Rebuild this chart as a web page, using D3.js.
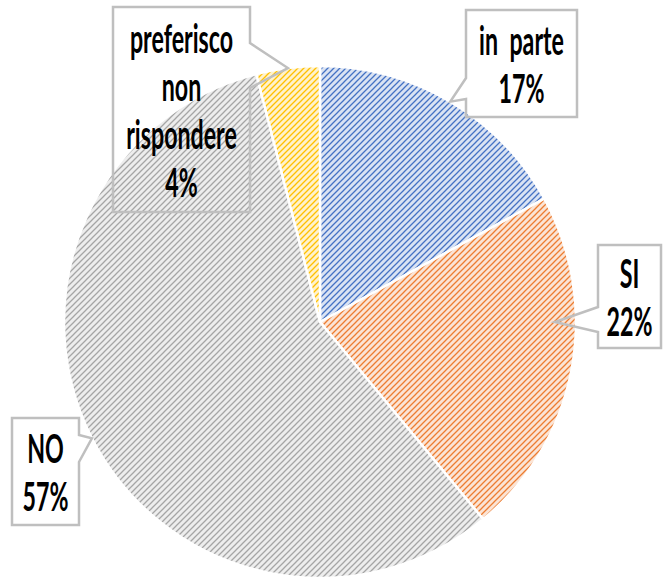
<!DOCTYPE html>
<html>
<head>
<meta charset="utf-8">
<script src="https://cdn.jsdelivr.net/npm/d3@7"></script>
<style>
  html, body { margin: 0; padding: 0; background: #fff; }
  svg { display: block; }
</style>
</head>
<body>
<div id="chart"></div>
<script>
// data
const categories = ["in parte", "SI", "NO", "preferisco non rispondere"];
const values = [17, 22, 57, 4];
const labelLines = [["in parte"], ["SI"], ["NO"], ["preferisco", "non", "rispondere"]];

// styles
const lineColors = ["#4472c4", "#ed7d31", "#a5a5a5", "#ffc000"];
const bgColors = ["#dae3f3", "#fbe4d5", "#ededed", "#fff2cc"];

// callout boxes (layout only)
const callouts = [
  { x: 466, y: 10, w: 111, h: 107, side: "left", wedge: [78, 99] },
  { x: 598, y: 245, w: 63, h: 103, side: "left", wedge: [307, 332], tipAngle: Math.PI / 2, tipR: 235 },
  { x: 12, y: 418, w: 67, h: 107, side: "right", wedge: [435, 462] },
  { x: 113, y: 7, w: 137, h: 205, side: "right", wedge: [43, 88] }
];

var width = 663, height = 579,
    cx = 320, cy = 322, radius = 256,
    lineH = 48, sx = 0.58;

var svg = d3.select("#chart")
    .append("svg")
      .attr("width", width)
      .attr("height", height);

var defs = svg.append("defs");
lineColors.forEach(function (c, i) {
    var p = defs.append("pattern")
        .attr("id", "hatch" + i)
        .attr("patternUnits", "userSpaceOnUse")
        .attr("width", 6)
        .attr("height", 6);
    p.append("rect")
        .attr("width", 6).attr("height", 6)
        .attr("fill", bgColors[i]);
    p.append("path")
        .attr("d", "M-1,1 l2,-2 M0,6 l6,-6 M5,7 l2,-2")
        .attr("stroke", c)
        .attr("stroke-width", 1.3);
});

var pie = d3.pie()
    .sort(null)
    .value(d => d);

var arc = d3.arc()
    .innerRadius(0)
    .outerRadius(radius);

var arcs = pie(values);

var g = svg.append("g")
    .attr("transform", `translate(${cx}, ${cy})`);

g.selectAll(".slice")
    .data(arcs)
  .enter().append("path")
    .attr("class", "slice")
    .attr("d", arc)
    .attr("fill", (d, i) => `url(#hatch${i})`)
    .attr("stroke", "#fff")
    .attr("stroke-width", 2.5)
    .attr("stroke-linejoin", "round");

// callouts
arcs.forEach(function (d, i) {
    var c = callouts[i],
        a = c.tipAngle != null ? c.tipAngle : (d.startAngle + d.endAngle) / 2,
        r = c.tipR || radius,
        tx = cx + r * Math.sin(a),
        ty = cy - r * Math.cos(a),
        path;

    if (c.side === "left") {
        path = `M${c.x},${c.y} H${c.x + c.w} V${c.y + c.h} H${c.x} V${c.wedge[1]} L${tx},${ty} L${c.x},${c.wedge[0]} Z`;
    } else {
        path = `M${c.x},${c.y} H${c.x + c.w} V${c.wedge[0]} L${tx},${ty} L${c.x + c.w},${c.wedge[1]} V${c.y + c.h} H${c.x} Z`;
    }

    svg.append("path")
        .attr("d", path)
        .attr("fill", "none")
        .attr("stroke", "#bfbfbf")
        .attr("stroke-width", 2.5);

    var lines = labelLines[i].concat([values[i] + "%"]),
        mx = c.x + c.w / 2,
        first = c.y + c.h / 2 - (lines.length - 1) / 2 * lineH + 15;

    lines.forEach(function (t, j) {
        svg.append("text")
            .attr("transform", `translate(${mx}, ${first + j * lineH}) scale(${sx}, 1)`)
            .attr("text-anchor", "middle")
            .style("font-family", "Lato, 'Open Sans', sans-serif")
            .style("font-size", "40px")
            .style("font-weight", 700)
            .style("word-spacing", "10px")
            .style("fill", "#000")
            .text(t);
    });
});
</script>
</body>
</html>
